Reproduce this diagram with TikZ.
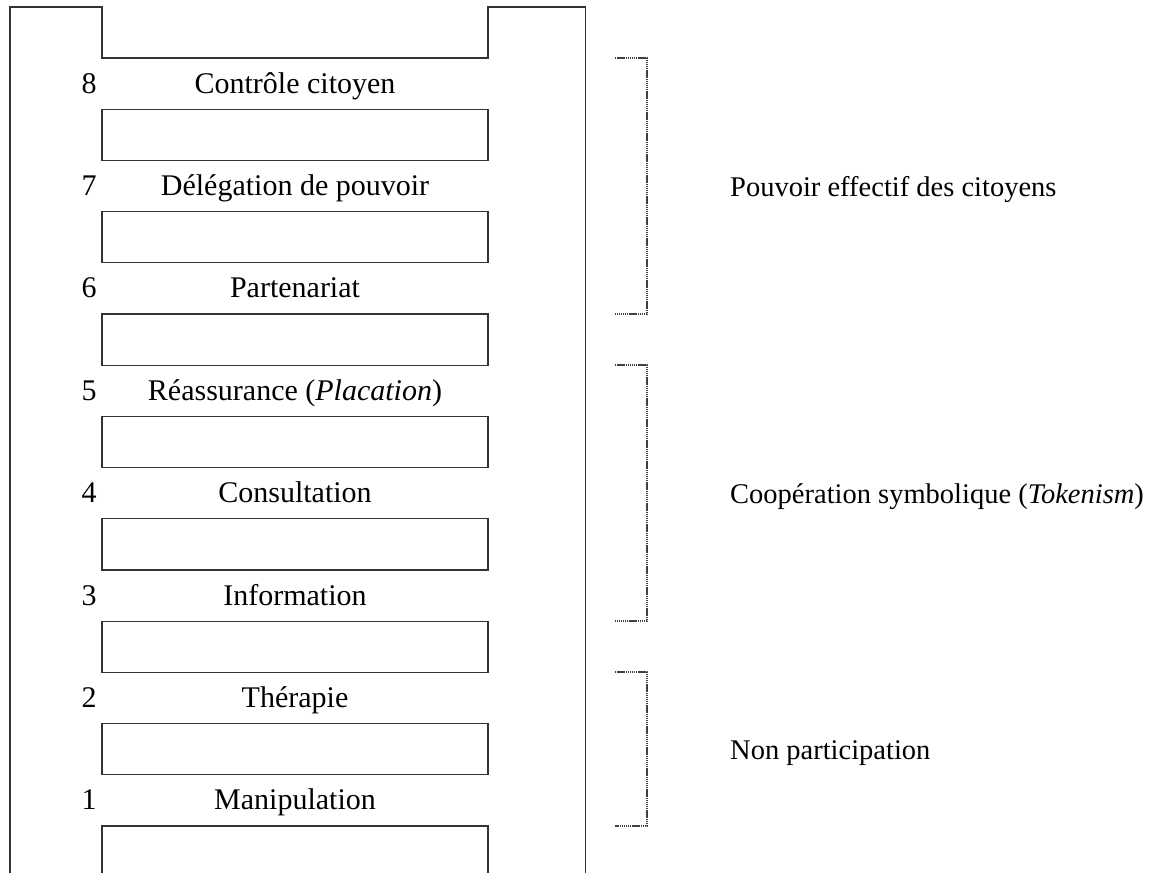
\documentclass[tikz,border=0pt]{standalone}
\usepackage{fontspec}
\setmainfont{Liberation Serif}
\tikzset{
  ladder/.style={draw=black!80, line width=1.3pt},
  brk/.style={draw=black!75, line width=2.2pt, dash pattern=on 1.4pt off 0.7pt},
  lbl/.style={inner sep=0pt, anchor=base, font=\fontsize{30}{36}\selectfont},
  grp/.style={inner sep=0pt, anchor=base west, font=\fontsize{28.5}{34}\selectfont},
}
\begin{document}
\begin{tikzpicture}[x=1pt,y=-1pt]
\clip (0,0) rectangle (1163,873);
% ladder frame
\draw[ladder] (10,890) -- (10,7) -- (102,7) -- (102,58) -- (488,58) -- (488,7) -- (585.5,7) -- (585.5,890);
% rungs
\foreach \i in {0,...,7}{
  \draw[ladder] (102,109.2+102.4*\i) rectangle (488,160.4+102.4*\i);
}
% labels
\foreach \k/\n/\t in {0/8/{Contrôle citoyen},1/7/{Délégation de pouvoir},2/6/{Partenariat},3/5/{Réassurance (\textit{Placation})},4/4/{Consultation},5/3/{Information},6/2/{Thérapie},7/1/{Manipulation}}{
  \node[lbl] (num\n) at (89,93+102.4*\k) {\n};
  \node[lbl] (step\n) at (295,93+102.4*\k) {\t};
}
% brackets
\coordinate (b1t) at (615,58);  \coordinate (b1b) at (615,314);
\coordinate (b2t) at (615,365); \coordinate (b2b) at (615,621);
\coordinate (b3t) at (615,672); \coordinate (b3b) at (615,826);
\draw[brk] (b1t) -- ++(32,0) |- (b1b);
\draw[brk] (b2t) -- ++(32,0) |- (b2b);
\draw[brk] (b3t) -- ++(32,0) |- (b3b);
\node[grp] (g1) at (730,196) {Pouvoir effectif des citoyens};
\node[grp] (g2) at (730,503) {Coopération symbolique (\textit{Tokenism})};
\node[grp] (g3) at (730,759) {Non participation};
\end{tikzpicture}
\end{document}
